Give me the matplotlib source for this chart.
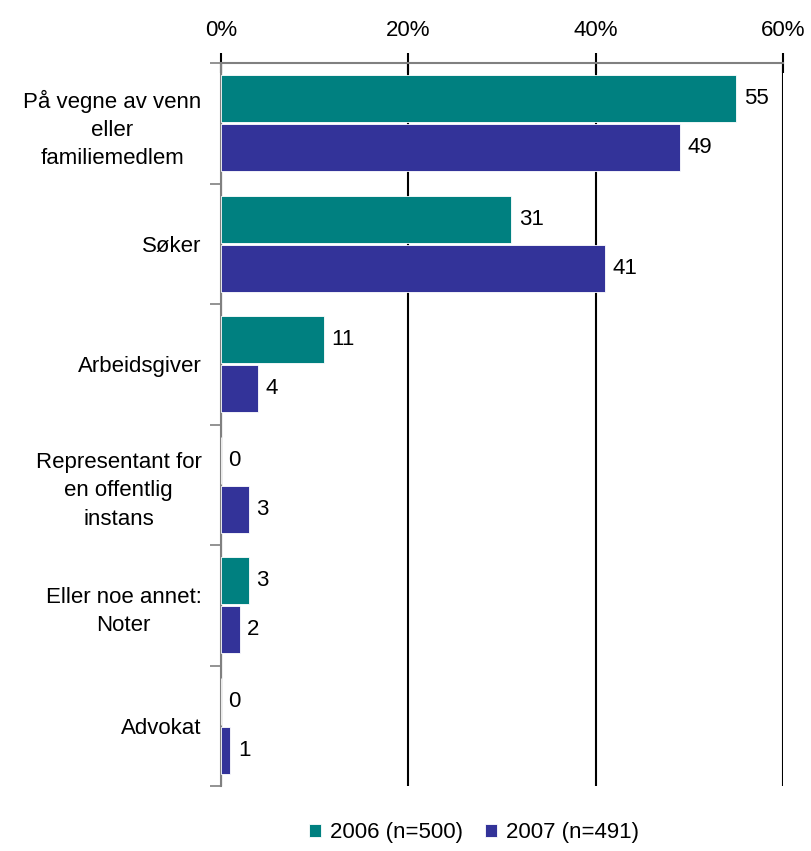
import numpy as np
import matplotlib.pyplot as plt

plt.rcParams['font.family'] = ['Liberation Sans', 'DejaVu Sans']

categories = ['På vegne av venn\neller\nfamiliemedlem', 'Søker', 'Arbeidsgiver',
              'Representant for\nen offentlig\ninstans', 'Eller noe annet:\nNoter', 'Advokat']
v2006 = [55, 31, 11, 0, 3, 0]
v2007 = [49, 41, 4, 3, 2, 1]
series_labels = ['2006 (n=500)', '2007 (n=491)']
c2006 = '#008080'
c2007 = '#333399'
fs = 16

fig = plt.figure(figsize=(8.12, 8.51), dpi=100)
ax = fig.add_axes([221 / 812, 1 - 786 / 851, (783 - 221) / 812, (786 - 63) / 851])

y = np.arange(len(categories))
h = 0.39
b1 = ax.barh(y - h / 2 - 0.01, v2006, height=h, color=c2006, label=series_labels[0],
             edgecolor='white', linewidth=0.6, zorder=3)
b2 = ax.barh(y + h / 2 + 0.01, v2007, height=h, color=c2007, label=series_labels[1],
             edgecolor='white', linewidth=0.6, zorder=3)

for bars, vals in ((b1, v2006), (b2, v2007)):
    for bar, v in zip(bars, vals):
        ax.text(bar.get_width() + 0.8, bar.get_y() + bar.get_height() / 2, str(v),
                va='center', ha='left', fontsize=fs)

ax.set_xlim(0, 60)
ax.set_ylim(len(categories) - 0.5, -0.5)
ax.xaxis.tick_top()
ax.set_xticks([0, 20, 40, 60])
ax.set_xticklabels(['0%', '20%', '40%', '60%'], fontsize=fs)
ax.tick_params(axis='x', direction='inout', length=14, width=1.5, color='black', pad=9)
ax.grid(axis='x', color='black', linewidth=1.5, zorder=1)

ax.set_yticks(y)
ax.set_yticklabels(categories, fontsize=fs, multialignment='center', linespacing=1.45)
ax.tick_params(axis='y', length=0, pad=14)
ax.set_yticks(np.arange(len(categories) + 1) - 0.5, minor=True)
ax.tick_params(axis='y', which='minor', length=8, color='gray', width=1.2)

for s in ['right', 'bottom']:
    ax.spines[s].set_visible(False)
for s in ['left', 'top']:
    ax.spines[s].set_color('gray')
    ax.spines[s].set_linewidth(1.5)

ax.legend(loc='center', bbox_to_anchor=(0.45, -0.065), ncol=2, frameon=False,
          fontsize=fs, handlelength=0.55, handleheight=0.55, handletextpad=0.4,
          columnspacing=1.0, borderpad=0)

fig.savefig('out.png', dpi=100)
